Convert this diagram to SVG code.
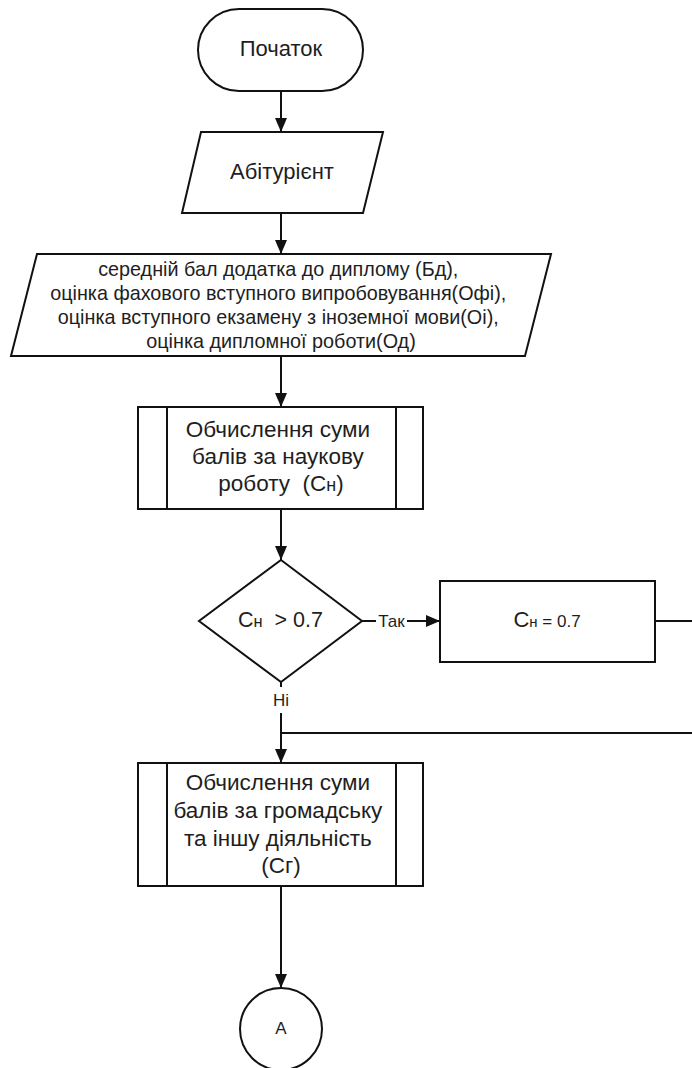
<svg xmlns="http://www.w3.org/2000/svg" width="692" height="1068" viewBox="0 0 692 1068">
<style>
.s{fill:#fff;stroke:#111;stroke-width:2}
.c{fill:none;stroke:#111;stroke-width:2}
.t{font-family:"Liberation Sans",Arial,sans-serif;fill:#1e1e1e;text-anchor:middle}
.lb{font-family:"Liberation Sans",Arial,sans-serif;fill:#1e1e1e;text-anchor:middle;font-size:17px}
</style>
<defs>
<marker id="ar" markerUnits="userSpaceOnUse" markerWidth="14" markerHeight="12" refX="14" refY="6" orient="auto">
<path d="M0,0 L14,6 L0,12 z" fill="#111"/>
</marker>
</defs>
<rect width="692" height="1068" fill="#fff"/>
<g id="connectors">
<line class="c" x1="281" y1="91" x2="281" y2="132" marker-end="url(#ar)"/>
<line class="c" x1="281" y1="213" x2="281" y2="254" marker-end="url(#ar)"/>
<line class="c" x1="281" y1="356" x2="281" y2="407" marker-end="url(#ar)"/>
<line class="c" x1="281" y1="509" x2="281" y2="560" marker-end="url(#ar)"/>
<line class="c" x1="362" y1="621" x2="376" y2="621"/>
<line class="c" x1="407" y1="621" x2="440" y2="621" marker-end="url(#ar)"/>
<text class="lb" x="391.5" y="627">Так</text>
<line class="c" x1="281" y1="682" x2="281" y2="687"/>
<text class="lb" x="281" y="706">Ні</text>
<line class="c" x1="281" y1="713" x2="281" y2="763" marker-end="url(#ar)"/>
<path class="c" d="M655,621 H700 V733 H281"/>
<line class="c" x1="281" y1="886" x2="281" y2="988" marker-end="url(#ar)"/>
</g>
<g id="start">
<rect class="s" x="198" y="9" width="165" height="82" rx="41" ry="41"/>
<text class="t" x="281" y="56" font-size="22">Початок</text>
</g>
<g id="applicant">
<polygon class="s" points="201,132 383,132 363,213 182,213"/>
<text class="t" x="282" y="179" font-size="22">Абітурієнт</text>
</g>
<g id="inputs">
<polygon class="s" points="37,254 551,254 525,356 11,356"/>
<text class="t" font-size="19.8">
<tspan x="281" y="276">середній бал додатка до диплому (Бд),</tspan>
<tspan x="281" y="300">оцінка фахового вступного випробовування(Офі),</tspan>
<tspan x="281" y="324">оцінка вступного екзамену з іноземної мови(Оі),</tspan>
<tspan x="281" y="348">оцінка дипломної роботи(Од)</tspan>
</text>
</g>
<g id="calc-science">
<rect class="s" x="138" y="407" width="285" height="102"/>
<line class="c" x1="167" y1="407" x2="167" y2="509"/>
<line class="c" x1="396" y1="407" x2="396" y2="509"/>
<text class="t" font-size="22.5">
<tspan x="281" y="437">Обчислення суми</tspan>
<tspan x="281" y="464">балів за наукову</tspan>
<tspan x="281" y="491" xml:space="preserve">роботу  (С<tspan font-size="18">н</tspan>)</tspan>
</text>
</g>
<g id="decision">
<polygon class="s" points="281,560 362,621 281,682 199,621"/>
<text class="t" x="280.5" y="627" font-size="21.5" xml:space="preserve">С<tspan font-size="16.5">н</tspan>  &gt; 0.7</text>
</g>
<g id="cap">
<rect class="s" x="440" y="581" width="215" height="81"/>
<text class="t" x="547" y="627" font-size="17" xml:space="preserve"><tspan font-size="22">С</tspan><tspan font-size="15">н</tspan> = 0.7</text>
</g>
<g id="calc-social">
<rect class="s" x="138" y="763" width="285" height="123"/>
<line class="c" x1="167" y1="763" x2="167" y2="886"/>
<line class="c" x1="396" y1="763" x2="396" y2="886"/>
<text class="t" font-size="22.5">
<tspan x="281" y="790">Обчислення суми</tspan>
<tspan x="281" y="818">балів за громадську</tspan>
<tspan x="281" y="846">та іншу діяльність</tspan>
<tspan x="281" y="873">(Сг)</tspan>
</text>
</g>
<g id="connector-a">
<circle class="s" cx="281" cy="1029" r="41"/>
<text class="t" x="281" y="1034" font-size="17">A</text>
</g>
</svg>
